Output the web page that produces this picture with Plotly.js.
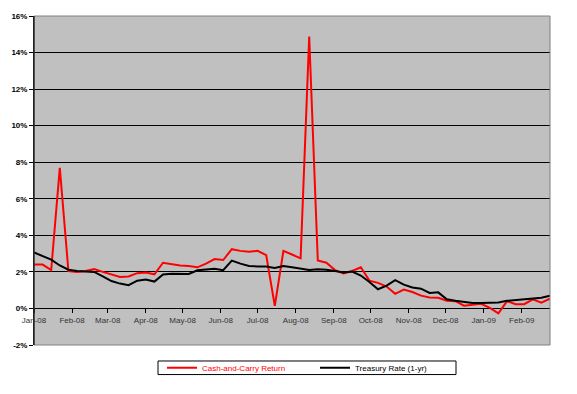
<!DOCTYPE html>
<html>
<head>
<meta charset="utf-8">
<script src="https://cdn.plot.ly/plotly-3.0.1.min.js"></script>
<style>html,body{margin:0;padding:0;background:#fff;}#chart{width:577px;height:394px;}</style>
</head>
<body>
<div id="chart"></div>
<script>
var weekDates = [
  "2008-01-01","2008-01-08","2008-01-15","2008-01-22","2008-01-29",
  "2008-02-05","2008-02-12","2008-02-19","2008-02-26",
  "2008-03-04","2008-03-11","2008-03-18","2008-03-25",
  "2008-04-01","2008-04-08","2008-04-15","2008-04-22","2008-04-29",
  "2008-05-06","2008-05-13","2008-05-20","2008-05-27",
  "2008-06-03","2008-06-10","2008-06-17","2008-06-24",
  "2008-07-01","2008-07-08","2008-07-15","2008-07-22","2008-07-29",
  "2008-08-05","2008-08-12","2008-08-19","2008-08-26",
  "2008-09-02","2008-09-09","2008-09-16","2008-09-23","2008-09-30",
  "2008-10-07","2008-10-14","2008-10-21","2008-10-28",
  "2008-11-04","2008-11-11","2008-11-18","2008-11-25",
  "2008-12-02","2008-12-09","2008-12-16","2008-12-23","2008-12-30",
  "2009-01-06","2009-01-13","2009-01-20","2009-01-27",
  "2009-02-03","2009-02-10","2009-02-17","2009-02-24"
];
var cashAndCarry = [
  2.4, 2.4, 2.1, 7.7, 2.05,
  2.0, 2.05, 2.15, 2.0,
  1.88, 1.72, 1.75, 1.93,
  1.97, 1.87, 2.5, 2.42, 2.35,
  2.32, 2.25, 2.45, 2.7,
  2.65, 3.24, 3.15, 3.1,
  3.15, 2.92, 0.14, 3.15, 2.95,
  2.74, 14.87, 2.62, 2.5,
  2.1, 1.92, 2.05, 2.25, 1.52,
  1.4, 1.2, 0.8, 1.03,
  0.9, 0.7, 0.6, 0.58,
  0.42, 0.4, 0.15, 0.18, 0.25,
  0.03, -0.27, 0.4, 0.23,
  0.23, 0.5, 0.32, 0.53
];
var treasury1yr = [
  3.06, 2.85, 2.67, 2.35, 2.12,
  2.05, 2.03, 2.0, 1.75,
  1.5, 1.36, 1.27, 1.52,
  1.58, 1.47, 1.86, 1.9, 1.91,
  1.89, 2.09, 2.12, 2.17,
  2.09, 2.62, 2.45, 2.32,
  2.3, 2.3, 2.22, 2.32, 2.25,
  2.17, 2.1, 2.14, 2.12,
  2.05, 1.97, 2.02, 1.8, 1.45,
  1.05, 1.25, 1.55, 1.3,
  1.15, 1.08, 0.85, 0.88,
  0.5, 0.42, 0.35, 0.3, 0.3,
  0.3, 0.32, 0.42, 0.45,
  0.5, 0.55, 0.58, 0.7
];
var seriesNames = ["Cash-and-Carry Return", "Treasury Rate (1-yr)"];
var yTicks = [-2, 0, 2, 4, 6, 8, 10, 12, 14, 16];
var yTickText = ["-2%", "0%", "2%", "4%", "6%", "8%", "10%", "12%", "14%", "16%"];

var W = 577, H = 394, L = 34, R = 27, T = 16, B = 38.5;
var pw = W - L - R, ph = H - T - B;
function px(xp){ return (xp - L) / pw; }
function py(yp){ return (H - B - yp) / ph; }

var FONT = "Liberation Sans, Arial, sans-serif";

var traces = [
  {x: weekDates, y: cashAndCarry, name: seriesNames[0], type: "scatter", mode: "lines",
   line: {color: "#ff0000", width: 2}},
  {x: weekDates, y: treasury1yr, name: seriesNames[1], type: "scatter", mode: "lines",
   line: {color: "#000000", width: 2}}
];

var layout = {
  width: W, height: H,
  margin: {l: L, r: R, t: T, b: B, pad: 0},
  paper_bgcolor: "#ffffff",
  plot_bgcolor: "#c0c0c0",
  showlegend: true,
  font: {family: FONT, size: 8, color: "#000"},
  xaxis: {
    type: "date",
    range: ["2008-01-01", "2009-02-24"],
    tick0: "2008-01-01", dtick: "M1",
    tickformat: "%b-%y",
    anchor: "free", position: 2/18,
    showgrid: false, zeroline: false,
    showline: false,
    ticks: "outside", ticklen: 4, tickcolor: "#000", tickwidth: 1,
    tickfont: {family: FONT, size: 8, color: "#333"},
    fixedrange: true
  },
  yaxis: {
    range: [-2, 16],
    tickmode: "array",
    tickvals: yTicks,
    ticktext: yTickText,
    showgrid: true, gridcolor: "#000", gridwidth: 1,
    zeroline: true, zerolinecolor: "#000", zerolinewidth: 1,
    showline: true, linecolor: "#000", linewidth: 1,
    ticks: "outside", ticklen: 4, tickcolor: "#000",
    tickfont: {family: FONT, size: 8, color: "#000", weight: "bold"},
    fixedrange: true
  },
  shapes: [
    {type: "rect", xref: "paper", yref: "paper", x0: 0, x1: 1, y0: 0, y1: 1,
     line: {color: "#808080", width: 1}, fillcolor: "rgba(0,0,0,0)", layer: "above"},
    {type: "line", xref: "paper", yref: "paper", x0: 0, x1: 0, y0: 0, y1: 1,
     line: {color: "#000", width: 1}, layer: "above"},
    {type: "rect", xref: "paper", yref: "paper", x0: px(158), x1: px(456), y0: py(386), y1: py(372),
     line: {color: "#000", width: 1}, fillcolor: "#ffffff", layer: "below"}
  ],
  legend: {
    orientation: "h",
    x: px(162), xanchor: "left",
    y: py(379), yanchor: "middle",
    bgcolor: "rgba(0,0,0,0)", borderwidth: 0,
    font: {family: FONT, size: 8, color: "#000"},
    entrywidth: 108, entrywidthmode: "pixels",
    tracegroupgap: 0, itemwidth: 30
  }
};

Plotly.newPlot("chart", traces, layout, {displayModeBar: false, staticPlot: true}).then(function(){
  var texts = document.querySelectorAll(".legendtext");
  if (texts.length) { texts[0].style.fill = "#ff0000"; }
});
</script>
</body>
</html>
